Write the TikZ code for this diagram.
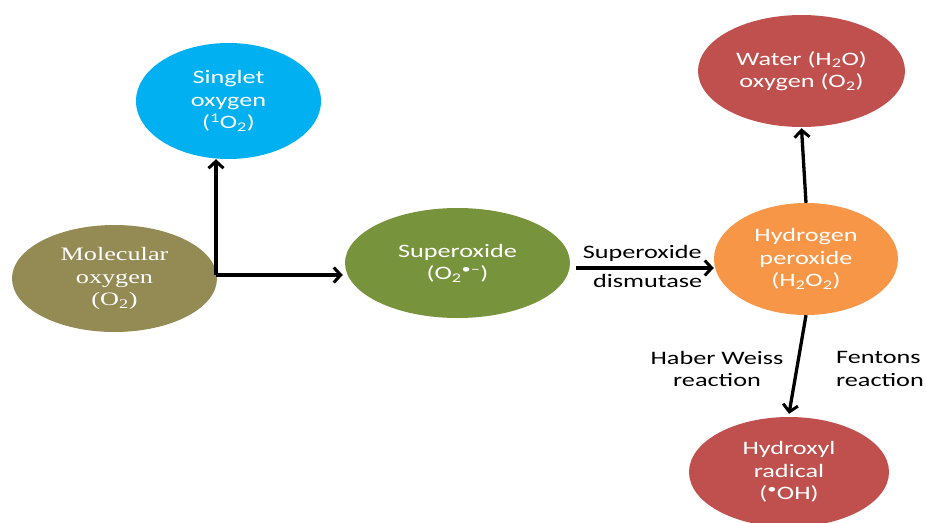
\documentclass[tikz,border=0pt]{standalone}
\usepackage{fontspec}
\setmainfont{Carlito}[FakeStretch=1.38]
\newfontfamily\oldserif{Liberation Serif}[FakeStretch=1.38]
\usetikzlibrary{arrows.meta,shapes.geometric}
\definecolor{molcol}{HTML}{948A54}
\definecolor{singcol}{HTML}{00B0F0}
\definecolor{supcol}{HTML}{77933C}
\definecolor{hpcol}{HTML}{F79646}
\definecolor{redcol}{HTML}{C0504D}

\begin{document}
\begin{tikzpicture}[x=1pt,y=1pt,
  blob/.style={ellipse,inner sep=0pt,text=white,align=center,font=\fontsize{19}{22.5}\selectfont},
  lbl/.style={align=center,font=\fontsize{19}{22.5}\selectfont},
  arr/.style={line width=3.3pt,-{Straight Barb[length=7pt,width=15pt,line width=3pt]}}]
\useasboundingbox (0,0) rectangle (926,-522);
% ellipses
\node[blob,fill=molcol,minimum width=205,minimum height=107,font=\oldserif\fontsize{19}{22.5}\selectfont] (mol) at (114.5,-278.5) {Molecular\\oxygen\\(O\textsubscript{2})};
\node[blob,fill=singcol,minimum width=185,minimum height=116] (sing) at (228.5,-101) {Singlet\\oxygen\\(\textsuperscript{1}O\textsubscript{2})};
\node[blob,fill=supcol,minimum width=225,minimum height=110] (sup) at (457.5,-263) {Superoxide\\(O\textsubscript{2}\textsuperscript{\textbullet–})};
\node[blob,fill=hpcol,minimum width=184,minimum height=112] (hp) at (806,-259) {Hydrogen\\peroxide\\(H\textsubscript{2}O\textsubscript{2})};
\node[blob,fill=redcol,minimum width=207,minimum height=112] (wat) at (801.5,-71) {Water (H\textsubscript{2}O)\\oxygen (O\textsubscript{2})};
\node[blob,fill=redcol,minimum width=200,minimum height=110] (hyd) at (789,-472) {Hydroxyl\\radical\\(\textsuperscript{\textbullet}OH)};
% connectors
\coordinate (fork) at (216,-275);
\draw[line width=3.3pt] (mol.east |- fork) -- (fork);
\draw[arr] (fork) -- (fork |- sing.south);
\draw[arr] (fork) -- ([xshift=-2pt]fork -| sup.west);
\draw[arr] ([xshift=6pt,yshift=-5pt]sup.east) -- ([yshift=-9pt]hp.west)
  node[lbl,pos=0.48,above=1pt] {Superoxide}
  node[lbl,pos=0.52,below=1pt] {dismutase};
\draw[arr] (hp.north) -- ([yshift=-1pt]wat.south);
\draw[arr] (hp.south) -- ([yshift=3pt]hyd.north);
\node[lbl] (hw) at (717,-369) {Haber Weiss\\reaction};
\node[lbl,align=left,anchor=east,inner sep=1pt] (fr) at (925,-369) {Fentons\\reaction};
\end{tikzpicture}
\end{document}
